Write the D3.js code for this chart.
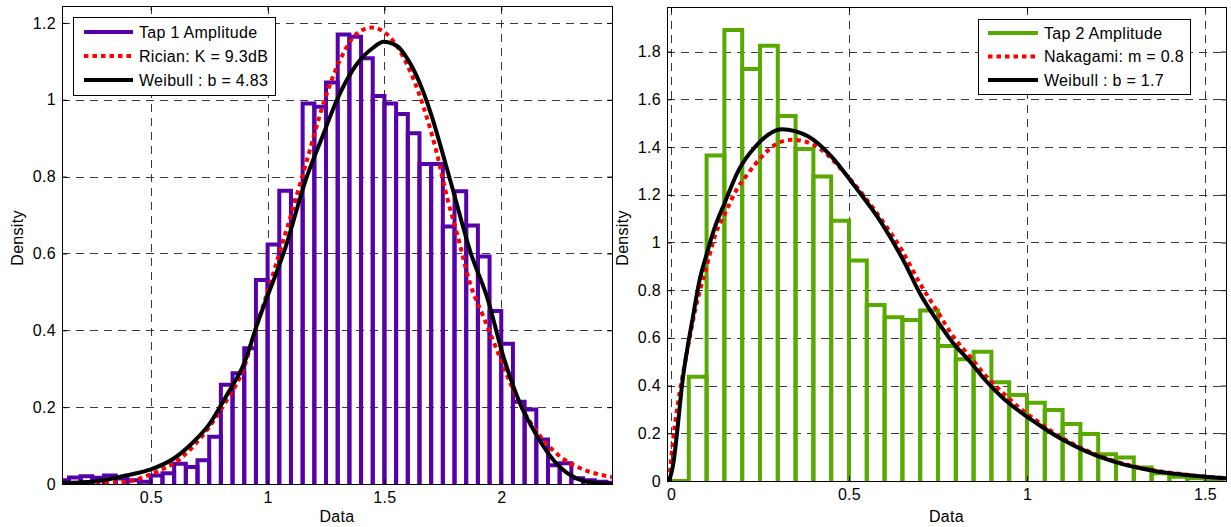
<!DOCTYPE html>
<html><head><meta charset="utf-8">
<script src="https://cdn.jsdelivr.net/npm/d3@7"></script>
<style>
body{margin:0;background:#fff;}
svg{display:block;font-family:"Liberation Sans",Arial,Helvetica,sans-serif;}
svg text{letter-spacing:0.3px;}
</style></head><body>
<svg id="chart" width="1231" height="527"></svg>
<script>
// ---------------- Panel 1 data (Tap 1) ----------------
const binWidth = 0.05;
const tap1BinStarts = [0.10,0.15,0.20,0.25,0.30,0.35,0.40,0.45,0.50,0.55,0.60,0.65,0.70,0.75,0.80,0.85,0.90,0.95,1.00,1.05,1.10,1.15,1.20,1.25,1.30,1.35,1.40,1.45,1.50,1.55,1.60,1.65,1.70,1.75,1.80,1.85,1.90,1.95,2.00,2.05,2.10,2.15,2.20,2.25,2.30,2.35,2.40,2.45];
const tap1Density = [0.010,0.017,0.020,0.016,0.022,0.014,0.010,0.006,0.022,0.028,0.053,0.044,0.062,0.123,0.258,0.288,0.353,0.531,0.623,0.763,0.738,0.990,0.982,1.045,1.170,1.164,1.108,1.010,0.990,0.963,0.913,0.833,0.833,0.670,0.762,0.673,0.592,0.450,0.365,0.214,0.194,0.116,0.049,0.054,0.015,0.010,0.006,0.003];
const ricianX = [0.12,0.3,0.4,0.47,0.54,0.61,0.68,0.75,0.825,0.9,0.947,1.0,1.05,1.1,1.168,1.239,1.311,1.38,1.446,1.525,1.596,1.668,1.725,1.768,1.811,1.867,1.924,1.982,2.039,2.11,2.181,2.253,2.339,2.474];
const ricianY = [0.0,0.002,0.006,0.018,0.036,0.058,0.097,0.148,0.218,0.305,0.40,0.50,0.60,0.70,0.842,0.99,1.105,1.171,1.188,1.162,1.093,0.98,0.859,0.746,0.651,0.521,0.435,0.348,0.262,0.175,0.114,0.071,0.041,0.018];
const weibull1X = [0.12,0.25,0.4,0.5,0.6,0.68,0.75,0.825,0.9,0.961,1.0,1.068,1.168,1.239,1.297,1.382,1.453,1.496,1.554,1.6,1.65,1.7,1.74,1.8,1.87,1.939,2.01,2.08,2.153,2.224,2.296,2.367,2.474];
const weibull1Y = [0.003,0.006,0.023,0.038,0.067,0.108,0.155,0.231,0.315,0.426,0.49,0.6,0.8,0.911,1.0,1.093,1.136,1.151,1.14,1.105,1.045,0.962,0.88,0.75,0.60,0.487,0.33,0.21,0.125,0.062,0.023,0.006,0.0];
const xTicks1 = [0.5,1,1.5,2];
const xTickLabels1 = ["0.5","1","1.5","2"];
const yTicks1 = [0,0.2,0.4,0.6,0.8,1,1.2];
const yTickLabels1 = ["0","0.2","0.4","0.6","0.8","1","1.2"];
const legend1 = ["Tap 1 Amplitude","Rician: K = 9.3dB","Weibull : b = 4.83"];

// ---------------- Panel 2 data (Tap 2) ----------------
const tap2BinStarts = [0.00,0.05,0.10,0.15,0.20,0.25,0.30,0.35,0.40,0.45,0.50,0.55,0.60,0.65,0.70,0.75,0.80,0.85,0.90,0.95,1.00,1.05,1.10,1.15,1.20,1.25,1.30,1.35,1.40,1.45,1.50];
const tap2Density = [0.0,0.437,1.364,1.891,1.727,1.825,1.530,1.392,1.276,1.091,0.924,0.738,0.686,0.675,0.715,0.566,0.510,0.542,0.414,0.361,0.328,0.298,0.239,0.197,0.112,0.098,0.057,0.032,0.018,0.012,0.005];
const nakagamiX = [-0.005,0.005,0.02,0.04,0.07,0.1,0.124,0.152,0.184,0.217,0.255,0.292,0.339,0.376,0.423,0.48,0.536,0.592,0.648,0.699,0.746,0.793,0.84,0.887,0.933,0.98,1.027,1.093,1.168,1.261,1.355,1.449,1.559];
const nakagamiY = [0,0.16,0.33,0.5,0.73,0.9,1.03,1.122,1.22,1.29,1.36,1.409,1.43,1.423,1.388,1.304,1.206,1.094,0.969,0.829,0.717,0.605,0.521,0.437,0.368,0.305,0.253,0.185,0.128,0.077,0.045,0.026,0.012];
const weibull2X = [-0.005,0.005,0.035,0.063,0.08,0.1,0.12,0.152,0.189,0.236,0.311,0.386,0.451,0.517,0.592,0.657,0.699,0.746,0.793,0.84,0.887,0.933,0.98,1.027,1.093,1.168,1.261,1.355,1.449,1.559];
const weibull2Y = [0,0.06,0.45,0.70,0.84,0.95,1.05,1.17,1.30,1.40,1.475,1.444,1.36,1.234,1.08,0.913,0.787,0.675,0.577,0.5,0.416,0.347,0.291,0.242,0.179,0.123,0.074,0.043,0.025,0.011];
const xTicks2 = [0,0.5,1,1.5];
const xTickLabels2 = ["0","0.5","1","1.5"];
const yTicks2 = [0,0.2,0.4,0.6,0.8,1,1.2,1.4,1.6,1.8];
const yTickLabels2 = ["0","0.2","0.4","0.6","0.8","1","1.2","1.4","1.6","1.8"];
const legend2 = ["Tap 2 Amplitude","Nakagami: m = 0.8","Weibull : b = 1.7"];

const svg = d3.select("#chart");
const FONT = 16;

function drawPanel(cfg) {
  const x = d3.scaleLinear().domain(cfg.xDomain).range([cfg.left, cfg.right]);
  const y = d3.scaleLinear().domain(cfg.yDomain).range([cfg.bottom, cfg.top]);
  const g = svg.append("g");
  const clipId = "clip" + cfg.id;
  svg.append("defs").append("clipPath").attr("id", clipId)
    .append("rect").attr("x", cfg.left).attr("y", cfg.top)
    .attr("width", cfg.right - cfg.left).attr("height", cfg.bottom - cfg.top);

  // grid
  const grid = g.append("g").attr("stroke", "#3a3a3a").attr("stroke-width", 1)
    .attr("stroke-dasharray", "8,6").attr("fill", "none");
  cfg.xTicks.forEach(v => {
    const px = Math.round(x(v)) + 0.5;
    grid.append("line").attr("x1", px).attr("x2", px).attr("y1", cfg.top).attr("y2", cfg.bottom);
  });
  cfg.yTicks.filter(v => v > 0).forEach(v => {
    const py = Math.round(y(v)) + 0.5;
    grid.append("line").attr("x1", cfg.left).attr("x2", cfg.right).attr("y1", py).attr("y2", py);
  });

  const data = g.append("g").attr("clip-path", `url(#${clipId})`);
  // histogram bars
  data.selectAll("path.bar").data(cfg.binStarts.map((b, i) => ({b, v: cfg.density[i]})))
    .join("path").attr("class", "bar")
    .attr("d", d => `M${x(d.b)},${y(0)}V${y(d.v)}H${x(d.b + binWidth)}V${y(0)}`)
    .attr("fill", "none").attr("stroke", cfg.barColor).attr("stroke-width", 4)
    .attr("stroke-linejoin", "miter");

  const line = d3.line().x(d => x(d[0])).y(d => y(d[1])).curve(d3.curveMonotoneX);
  data.append("path").datum(cfg.redX.map((v, i) => [v, cfg.redY[i]]))
    .attr("d", line).attr("fill", "none").attr("stroke", "#ff0000")
    .attr("stroke-width", 4).attr("stroke-dasharray", "4.5,4");
  data.append("path").datum(cfg.blackX.map((v, i) => [v, cfg.blackY[i]]))
    .attr("d", line).attr("fill", "none").attr("stroke", "#000")
    .attr("stroke-width", 4).attr("stroke-linejoin", "round");

  // axes
  const fmtX = (d, i) => cfg.xTickLabels[i];
  const fmtY = (d, i) => cfg.yTickLabels[i];
  const ax = g.append("g").attr("transform", `translate(0,${cfg.bottom})`)
    .call(d3.axisBottom(x).tickValues(cfg.xTicks).tickFormat(fmtX).tickSize(-5).tickPadding(8));
  const ay = g.append("g").attr("transform", `translate(${cfg.left},0)`)
    .call(d3.axisLeft(y).tickValues(cfg.yTicks).tickFormat(fmtY).tickSize(-5).tickPadding(6));
  const at = g.append("g").attr("transform", `translate(0,${cfg.top})`)
    .call(d3.axisTop(x).tickValues(cfg.xTicks).tickFormat("").tickSize(-5));
  const ar = g.append("g").attr("transform", `translate(${cfg.right},0)`)
    .call(d3.axisRight(y).tickValues(cfg.yTicks).tickFormat("").tickSize(-5));
  [ax, ay, at, ar].forEach(a => {
    a.select(".domain").remove();
    a.selectAll("text").attr("font-size", FONT).attr("fill", "#000")
      .attr("font-family", '"Liberation Sans",Arial,sans-serif');
    a.selectAll("line").attr("stroke", "#000");
  });
  g.append("rect").attr("x", cfg.left + 0.5).attr("y", cfg.top + 0.5)
    .attr("width", cfg.right - cfg.left).attr("height", cfg.bottom - cfg.top)
    .attr("fill", "none").attr("stroke", "#000").attr("stroke-width", 1);

  // axis labels
  g.append("text").attr("x", (cfg.left + cfg.right) / 2).attr("y", 522)
    .attr("text-anchor", "middle").attr("font-size", FONT).text("Data");
  g.append("text").attr("transform", `translate(${cfg.ylabX},${cfg.ylabY}) rotate(-90)`)
    .attr("text-anchor", "middle").attr("font-size", FONT).text("Density");

  // legend
  const L = cfg.legend;
  const lg = g.append("g");
  lg.append("rect").attr("x", L.x + 0.5).attr("y", L.y + 0.5).attr("width", L.w).attr("height", L.h)
    .attr("fill", "#fff").attr("stroke", "#000").attr("stroke-width", 1);
  const styles = [
    {stroke: cfg.barColor, dash: null},
    {stroke: "#ff0000", dash: "4.5,4"},
    {stroke: "#000", dash: null}
  ];
  cfg.legendLabels.forEach((t, i) => {
    const yy = L.y + L.row0 + i * L.dy;
    lg.append("line").attr("x1", L.x + L.lx0).attr("x2", L.x + L.lx1).attr("y1", yy).attr("y2", yy)
      .attr("stroke", styles[i].stroke).attr("stroke-width", 4)
      .attr("stroke-dasharray", styles[i].dash);
    lg.append("text").attr("x", L.x + L.tx).attr("y", yy + 5.5).attr("font-size", FONT).text(t);
  });
}

drawPanel({
  id: 1, left: 62, right: 612, top: 6, bottom: 484,
  xDomain: [0.12, 2.474], yDomain: [0, 1.244],
  xTicks: xTicks1, xTickLabels: xTickLabels1, yTicks: yTicks1, yTickLabels: yTickLabels1,
  binStarts: tap1BinStarts, density: tap1Density, barColor: "rgb(86,0,170)",
  redX: ricianX, redY: ricianY, blackX: weibull1X, blackY: weibull1Y,
  ylabX: 23, ylabY: 238,
  legendLabels: legend1,
  legend: {x: 73, y: 17, w: 202, h: 78, row0: 15, dy: 24, lx0: 11, lx1: 60, tx: 66}
});
drawPanel({
  id: 2, left: 667, right: 1226, top: 7, bottom: 481,
  xDomain: [-0.0112, 1.559], yDomain: [0, 1.987],
  xTicks: xTicks2, xTickLabels: xTickLabels2, yTicks: yTicks2, yTickLabels: yTickLabels2,
  binStarts: tap2BinStarts, density: tap2Density, barColor: "rgb(88,170,0)",
  redX: nakagamiX, redY: nakagamiY, blackX: weibull2X, blackY: weibull2Y,
  ylabX: 628, ylabY: 238,
  legendLabels: legend2,
  legend: {x: 978, y: 19, w: 212, h: 75, row0: 14, dy: 23.5, lx0: 10, lx1: 60, tx: 66}
});
</script>
</body></html>
